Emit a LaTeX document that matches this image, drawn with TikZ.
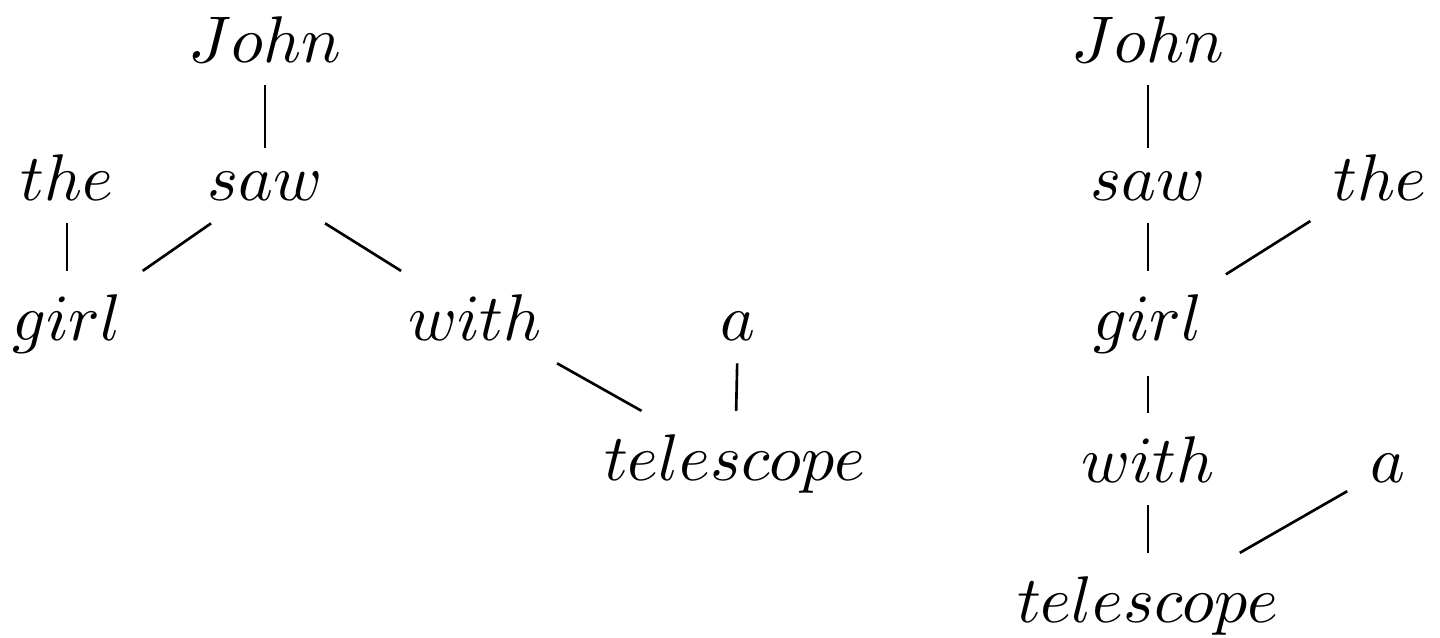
\documentclass[tikz,border=0pt]{standalone}
\usepackage{amsmath,amssymb}
\usepackage{tikz}

\begin{document}
\begin{tikzpicture}[
  x=0.1515pt, y=-0.1515pt,
  word/.style={anchor=base},
  dep/.style={thin}
]
  \useasboundingbox (0,0) rectangle (1440,637);
  % Left tree
  \node (johnL) [word] at (265,62) {$John$};
  \node (theL) [word] at (67,200) {$the$};
  \node (sawL) [word] at (265,200) {$saw$};
  \node (girlL) [word] at (67,340) {$girl$};
  \node (withL) [word] at (475,340) {$with$};
  \node (aL) [word] at (738,340) {$a$};
  \node (telL) [word] at (735,480) {$telescope$};

  % Right tree
  \node (johnR) [word] at (1148,62) {$John$};
  \node (sawR) [word] at (1148,200) {$saw$};
  \node (theR) [word] at (1380,200) {$the$};
  \node (girlR) [word] at (1148,340) {$girl$};
  \node (withR) [word] at (1148,482) {$with$};
  \node (aR) [word] at (1388,482) {$a$};
  \node (telR) [word] at (1148,622) {$telescope$};

  % Connectors
  \draw [dep] (johnL) -- (sawL);
  \draw [dep] (theL) -- (girlL);
  \draw [dep] (sawL) -- (girlL);
  \draw [dep] (sawL) -- (withL);
  \draw [dep] (withL) -- (telL);
  \draw [dep] (aL) -- (telL);

  \draw [dep] (johnR) -- (sawR);
  \draw [dep] (sawR) -- (girlR);
  \draw [dep] (theR) -- (girlR);
  \draw [dep] (girlR) -- (withR);
  \draw [dep] (withR) -- (telR);
  \draw [dep] (aR) -- (telR);
\end{tikzpicture}
\end{document}
